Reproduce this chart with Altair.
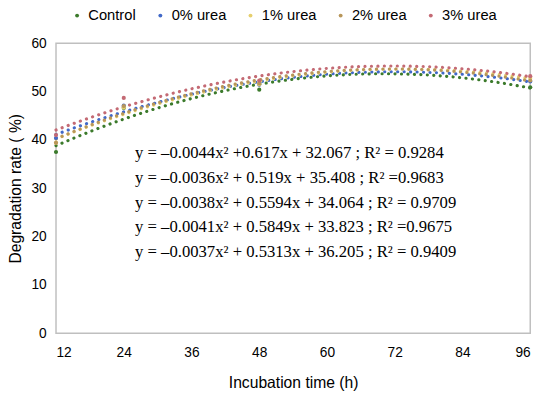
import altair as alt
import pandas as pd

series = ["Control", "0% urea", "1% urea", "2% urea", "3% urea"]
colors = ["#3b7a2b", "#4169c8", "#e6cf6e", "#b8965a", "#c46a74"]
times = [12, 24, 48, 96]
values = {
    "Control": [37.5, 46.6, 50.4, 50.9],
    "0% urea": [40.4, 47.1, 51.4, 52.1],
    "1% urea": [39.4, 46.7, 51.5, 52.8],
    "2% urea": [39.4, 47.0, 51.7, 52.3],
    "3% urea": [41.0, 48.7, 52.3, 53.2],
}
equations = [
    "y = –0.0044x² +0.617x + 32.067 ; R² = 0.9284",
    "y = –0.0036x² + 0.519x + 35.408 ; R² =0.9683",
    "y = –0.0038x² + 0.5594x + 34.064 ; R² = 0.9709",
    "y = –0.0041x² + 0.5849x + 33.823 ; R² =0.9675",
    "y = –0.0037x² + 0.5313x + 36.205 ; R² = 0.9409",
]
eq_y = [37.2, 32.1, 27.0, 21.9, 16.8]
eq_x = 26

rows = []
for s in series:
    for t, v in zip(times, values[s]):
        rows.append({"series": s, "time": t, "value": v})
df = pd.DataFrame(rows)
eqdf = pd.DataFrame({"text": equations, "y": eq_y, "x": [eq_x] * len(equations)})

xscale = alt.Scale(domain=[12, 96], nice=False, zero=False)
yscale = alt.Scale(domain=[0, 60], nice=False)
cscale = alt.Scale(domain=series, range=colors)

xaxis = alt.Axis(values=[12, 24, 36, 48, 60, 72, 84, 96], title="Incubation time (h)",
                 domain=False, ticks=False, grid=False, labelPadding=13, titlePadding=15)
yaxis = alt.Axis(values=[0, 10, 20, 30, 40, 50, 60], title="Degradation rate ( %)",
                 domain=False, ticks=False, grid=False, labelPadding=10, titlePadding=8)

legend = alt.Legend(
    title=None, orient="none", direction="horizontal", legendX=14, legendY=-36,
    symbolSize=16, symbolType="circle", labelFontSize=15, labelFont="Liberation Sans",
    labelColor="#000000", columnPadding=17, symbolStrokeWidth=0)

base = alt.Chart(df)

lines = base.transform_regression(
    "time", "value", groupby=["series"], method="poly", order=2, extent=[12, 96]
).mark_line(strokeDash=[0.1, 6.5], strokeCap="round", strokeWidth=3.2).encode(
    x=alt.X("time:Q", scale=xscale, axis=xaxis),
    y=alt.Y("value:Q", scale=yscale, axis=yaxis),
    color=alt.Color("series:N", scale=cscale, legend=legend),
)

points = base.mark_circle(size=18, opacity=1).encode(
    x=alt.X("time:Q", scale=xscale),
    y=alt.Y("value:Q", scale=yscale),
    color=alt.Color("series:N", scale=cscale, legend=legend),
)

text = alt.Chart(eqdf).mark_text(align="left", baseline="middle", font="Liberation Serif",
                                  fontSize=17, color="#000000").encode(
    x=alt.X("x:Q", scale=xscale),
    y=alt.Y("y:Q", scale=yscale),
    text="text:N",
)

chart = alt.layer(lines, points, text).properties(
    width=484, height=296,
    autosize=alt.AutoSizeParams(type="none"),
    padding={"left": 49, "top": 32, "right": 12, "bottom": 60},
).configure_view(stroke="#bfbfbf", strokeWidth=1.5).configure_axis(
    labelFont="Liberation Sans", labelFontSize=14, labelColor="#000000",
    titleFont="Liberation Sans", titleFontSize=16, titleFontWeight="normal", titleColor="#000000",
)

chart.save("out.html", embed_options={"renderer": "svg", "actions": False})
